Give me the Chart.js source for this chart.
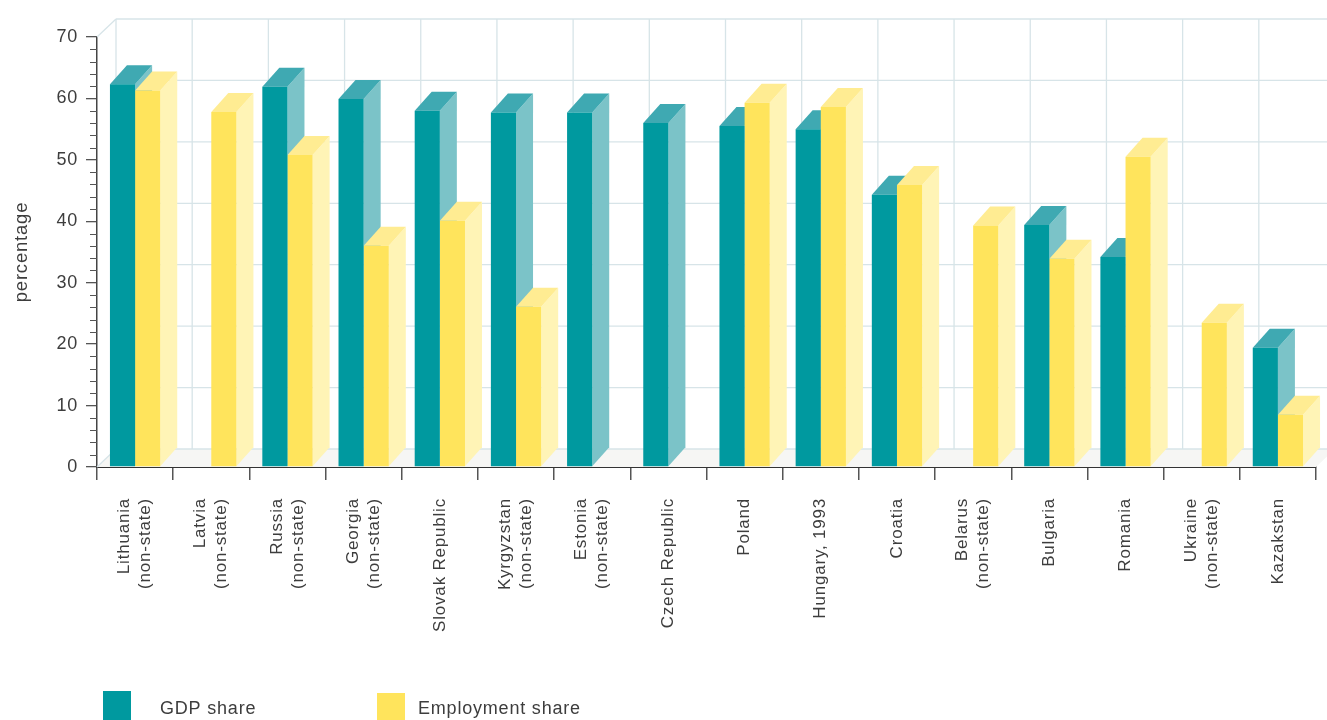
<!DOCTYPE html>
<html>
<head>
<meta charset="utf-8">
<script src="https://cdn.jsdelivr.net/npm/chart.js@4.4.0/dist/chart.umd.min.js"></script>
<style>
  html, body { margin: 0; padding: 0; background: #fff; }
  #chart { display: block; }
</style>
</head>
<body>
<canvas id="chart" width="1327" height="720"></canvas>
<script>
const countries = [
  ['Lithuania', '(non-state)'], ['Latvia', '(non-state)'], ['Russia', '(non-state)'], ['Georgia', '(non-state)'],
  'Slovak Republic', ['Kyrgyzstan', '(non-state)'], ['Estonia', '(non-state)'], 'Czech Republic', 'Poland',
  'Hungary, 1993', 'Croatia', ['Belarus', '(non-state)'], 'Bulgaria', 'Romania', ['Ukraine', '(non-state)'], 'Kazakstan'
];
const gdpShare = [62.3, null, 61.9, 59.9, 58.0, 57.7, 57.7, 56.0, 55.5, 55.0, 44.3, null, 39.4, 34.2, null, 19.4];
const employmentShare = [61.3, 57.8, 50.8, 36.0, 40.1, 26.1, null, null, 59.3, 58.6, 45.9, 39.3, 33.9, 50.5, 23.5, 8.5];
const yTicks = [0, 10, 20, 30, 40, 50, 60, 70];

const FONT = 'Liberation Sans, Arial, sans-serif';
const TEXT = '#3d3d3d';

// depth of the bars and of the back wall, in px
const DX = 17, DY = 19;
const WX = 19, WY = 18;

const shades = [
  { front: '#00999f', top: '#3fa9b2', side: '#7bc3c8' },
  { front: '#ffe45c', top: '#ffec92', side: '#fff4b6' },
];

function poly(ctx, pts, fill) {
  ctx.beginPath();
  ctx.moveTo(pts[0][0], pts[0][1]);
  for (let i = 1; i < pts.length; i++) ctx.lineTo(pts[i][0], pts[i][1]);
  ctx.closePath();
  ctx.fillStyle = fill;
  ctx.fill();
}

function line(ctx, x1, y1, x2, y2) {
  ctx.beginPath();
  ctx.moveTo(x1, y1);
  ctx.lineTo(x2, y2);
  ctx.stroke();
}

const depth = {
  id: 'depth',
  beforeDraw(chart) {
    chart.ctx.letterSpacing = '0.8px';
  },
  beforeDatasetsDraw(chart) {
    const { ctx, chartArea: a, scales: { x, y } } = chart;
    ctx.save();

    // floor
    poly(ctx, [[a.left, a.bottom], [a.right, a.bottom], [a.right + WX, a.bottom - WY], [a.left + WX, a.bottom - WY]], '#f6f6f4');

    // back wall grid
    ctx.strokeStyle = '#d7e4e8';
    ctx.lineWidth = 1.3;
    yTicks.forEach(v => {
      const py = y.getPixelForValue(v) - WY;
      line(ctx, a.left + WX, py, chart.width, py);
    });
    for (let i = 0; i <= countries.length; i++) {
      const px = x.getPixelForValue(i - 0.5) + WX;
      line(ctx, px, a.top - WY, px, a.bottom - WY);
    }
    // left wall edges
    line(ctx, a.left, a.top, a.left + WX, a.top - WY);
    line(ctx, a.left, a.bottom, a.left + WX, a.bottom - WY);

    // top and side faces, left to right so nearer faces overlap correctly
    for (let i = 0; i < countries.length; i++) {
      chart.data.datasets.forEach((ds, d) => {
        if (ds.data[i] == null) return;
        const bar = chart.getDatasetMeta(d).data[i];
        const { x: cx, y: top, base, width } = bar.getProps(['x', 'y', 'base', 'width'], true);
        const l = cx - width / 2, r = cx + width / 2;
        poly(ctx, [[r, top], [r + DX, top - DY], [r + DX, base - DY], [r, base]], shades[d].side);
        poly(ctx, [[l, top], [r, top], [r + DX, top - DY], [l + DX, top - DY]], shades[d].top);
      });
    }
    ctx.restore();
  },
  afterDraw(chart) {
    const { ctx, chartArea: a, scales: { x, y } } = chart;
    ctx.save();

    // minor ticks on the value axis
    ctx.strokeStyle = '#555';
    ctx.lineWidth = 1;
    for (let v = 0; v <= 70; v += 2) {
      if (v % 10 === 0) continue;
      const py = Math.round(y.getPixelForValue(v)) + 0.5;
      line(ctx, a.left - 7, py, a.left, py);
    }

    // rotated category labels
    ctx.fillStyle = TEXT;
    ctx.font = '17px ' + FONT;
    ctx.textAlign = 'right';
    ctx.textBaseline = 'middle';
    const lh = 21;
    x.getLabels().forEach((label, i) => {
      const lines = Array.isArray(label) ? label : [label];
      const cx = x.getPixelForValue(i);
      lines.forEach((t, j) => {
        ctx.save();
        ctx.translate(cx + (j - (lines.length - 1) / 2) * lh, a.bottom + 31);
        ctx.rotate(-Math.PI / 2);
        ctx.fillText(t, 0, 0);
        ctx.restore();
      });
    });

    // legend
    const legend = [[103, 691, 160], [377, 693, 418]];
    ctx.font = '18px ' + FONT;
    ctx.textAlign = 'left';
    chart.data.datasets.forEach((ds, d) => {
      const [bx, by, tx] = legend[d];
      ctx.fillStyle = ds.backgroundColor;
      ctx.fillRect(bx, by, 28, chart.height - by);
      ctx.fillStyle = TEXT;
      ctx.fillText(ds.label, tx, 709);
    });
    ctx.restore();
  }
};

new Chart(document.getElementById('chart'), {
  type: 'bar',
  data: {
    labels: countries,
    datasets: [
      { label: 'GDP share', data: gdpShare, backgroundColor: shades[0].front },
      { label: 'Employment share', data: employmentShare, backgroundColor: shades[1].front },
    ],
  },
  options: {
    responsive: false,
    animation: false,
    devicePixelRatio: 1,
    layout: { padding: { top: 37, right: 11, left: 0, bottom: 0 } },
    datasets: {
      bar: { categoryPercentage: 0.66, barPercentage: 1, borderWidth: 0 },
    },
    scales: {
      x: {
        afterFit: (scale) => { scale.height = 253; },
        grid: { display: true, offset: true, drawOnChartArea: false, drawTicks: true, tickLength: 13, color: '#555', lineWidth: 1.5 },
        border: { display: true, color: '#333', width: 2 },
        ticks: { display: false },
      },
      y: {
        min: 0,
        max: 70,
        afterFit: (scale) => { scale.width = 97; },
        grid: { drawOnChartArea: false, drawTicks: true, tickLength: 11, color: '#555', lineWidth: 1.3 },
        border: { display: true, color: '#444', width: 1.5 },
        ticks: { stepSize: 10, padding: 8, color: TEXT, font: { family: FONT, size: 18 } },
        title: { display: true, text: 'percentage', color: TEXT, font: { family: FONT, size: 18.5 }, padding: { top: 11, bottom: 0 } },
      },
    },
    plugins: {
      legend: { display: false },
      title: { display: false },
      tooltip: { enabled: false },
    },
  },
  plugins: [depth],
});
</script>
</body>
</html>
